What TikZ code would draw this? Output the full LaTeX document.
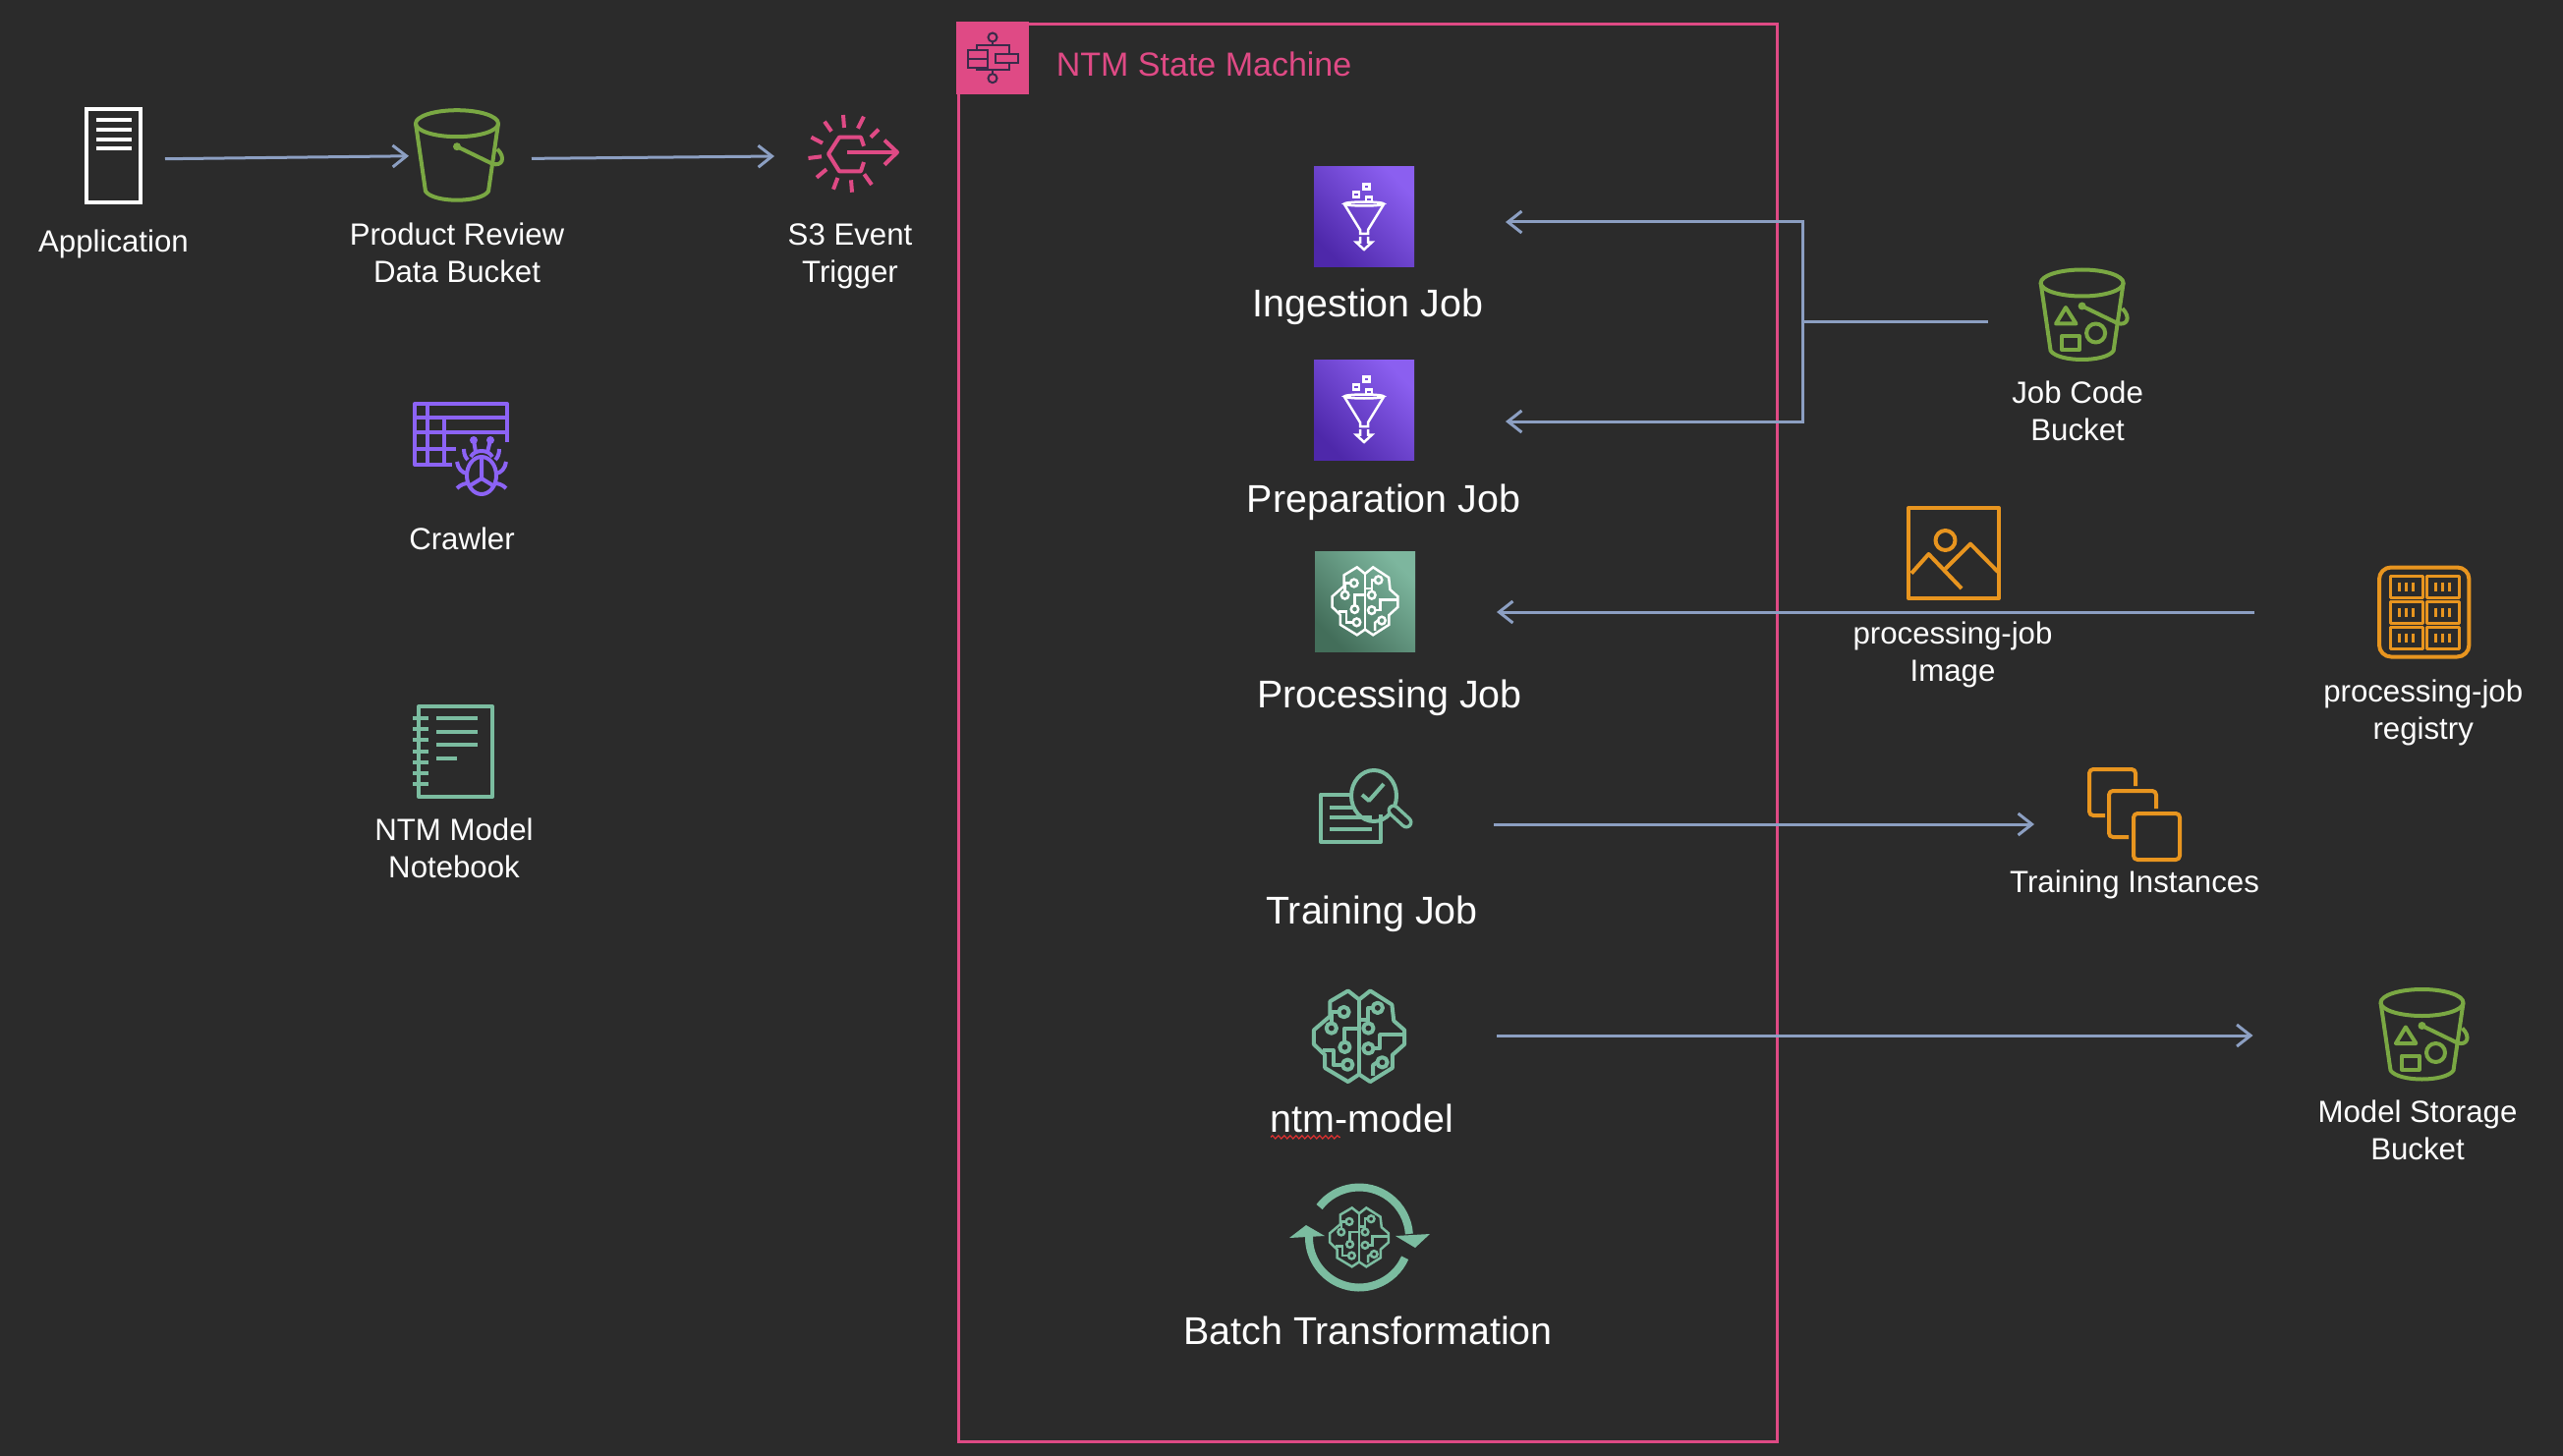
\documentclass[tikz,border=0pt]{standalone}
\usepackage{fontspec}
\setmainfont{Liberation Sans}
\usepackage{xcolor}
\usetikzlibrary{arrows.meta,positioning,decorations.pathmorphing}
\definecolor{pagebg}{HTML}{2B2B2B}
\definecolor{flowblue}{HTML}{8C9FC2}
\definecolor{machinepink}{HTML}{DF4A85}
\definecolor{bucketgreen}{HTML}{7AA843}
\definecolor{crawlviolet}{HTML}{8C63F5}
\definecolor{notegreen}{HTML}{7BBCA0}
\definecolor{boxorange}{HTML}{E8951F}
\definecolor{glyphdark}{HTML}{3A2B4A}
\definecolor{squigglered}{HTML}{E03030}
\definecolor{violethigh}{HTML}{8B5FF0}
\definecolor{violetlow}{HTML}{4E28AA}
\definecolor{sagehigh}{HTML}{7DB69E}
\definecolor{sagelow}{HTML}{436E5A}
\tikzset{
  iconspot/.style 2 args={
    minimum width=#1, minimum height=#2, inner sep=0pt, outer sep=0pt
  },
  iconlabel/.style={
    font=\fontsize{15.6pt}{19pt}\selectfont, text=white, align=center,
    inner sep=0pt, outer sep=0pt
  },
  joblabel/.style={
    font=\fontsize{19.7pt}{24pt}\selectfont, text=white, align=center,
    inner sep=0pt, outer sep=0pt
  },
  flowline/.style={line width=1.5pt, color=flowblue},
  flowarrow/.style={
    -{Straight Barb[length=7pt,width=11pt]}, line width=1.5pt, color=flowblue
  },
  iconline/.style={line width=2pt, line join=round},
  machinebox/.style={
    rectangle, draw=machinepink, line width=1.5pt,
    minimum width=416.5pt, minimum height=721.75pt, inner sep=0pt
  },
  machinetile/.style={
    rectangle, fill=machinepink, minimum width=37pt, minimum height=37pt,
    inner sep=0pt, outer sep=0pt
  },
  jobtile/.style 2 args={
    rectangle, top color=#1, bottom color=#2, shading angle=-45,
    minimum width=51pt, minimum height=51pt, inner sep=0pt, outer sep=0pt
  },
  % glyphs, drawn around the centre of their node
  serverglyph/.pic={
    \draw[line width=2pt] (-27.5,-47.5) rectangle (27.5,47.5);
    \foreach \y in {-37,-27,-17,-8}
      \draw[line width=2pt] (-18,\y) -- (18,\y);
  },
  bucketglyph/.pic={
    \draw (0,-33) ellipse[x radius=42,y radius=13.5];
    \draw (-42,-33) -- (-32,36) .. controls (-24,48) and (24,48) .. (32,36) -- (42,-33);
    \fill (0,-9.5) circle[radius=4];
    \draw (0,-9.5) -- (36,8) .. controls (46,11) and (50,2) .. (41,-7);
  },
  shapebucketglyph/.pic={
    \pic {bucketglyph};
    \draw (-16.6,-8) -- (-26.6,8.5) -- (-6.1,8.5) -- cycle;
    \draw (-20.6,21) rectangle (-2.6,35);
    \draw (14,18) circle[radius=9.5];
  },
  triggerglyph/.pic={
    \foreach \xa/\ya/\xb/\yb in {-10/-41.7/-9/-28.7, 11/-40/5/-28, 26/-27/18/-19,
        -29/-35/-22/-25, -42.5/-19/-31/-13, -45.5/2.3/-32/.6, -37/22/-27/13.6,
        -20/34/-15.6/22.3, -1/37/-2/24.6, 19/29.3/11.4/18.6}
      \draw (\xa,\ya) -- (\xb,\yb);
    \draw (11,-10) -- (8,-19) -- (-14,-19) -- (-25,-2) -- (-14,15.6) -- (8,15.6) -- (11,6.3);
    \draw[line width=2pt] (-6,-3.7) -- (45,-3.7);
    \draw[line width=2pt] (32,-16) -- (45,-3.7) -- (32,9);
  },
  crawlerglyph/.pic={
    % table
    \draw (47,-7) -- (47,-46) -- (-47,-46) -- (-47,16) -- (-9,16);
    \draw (-47,-32) -- (47,-32);
    \draw (-47,-17) -- (47,-17);
    \draw (-34,-46) -- (-34,16);
    \draw (-17,-32) -- (-17,16);
    \draw (-47,0) -- (-5,0);
    % bug
    \draw (21,27) ellipse[x radius=15,y radius=19];
    \draw (21,8) -- (21,30) -- (8,38);
    \draw (21,30) -- (34,38);
    \fill (13,-9) circle[radius=4];
    \fill (30,-9) circle[radius=4];
    \draw (13,-9) -- (15,3);
    \draw (30,-9) -- (27,3);
    \draw (10,8) .. controls (14,0) and (28,0) .. (32,8);
    \draw (3,0) .. controls (3,6) and (5,9) .. (7,11);
    \draw (39,0) .. controls (39,6) and (37,9) .. (35,11);
    \draw (-4,13) .. controls (-3,20) and (1,24) .. (6,25);
    \draw (46,13) .. controls (45,20) and (41,24) .. (36,25);
    \draw (-4,40) .. controls (0,36) and (4,35) .. (8,35);
    \draw (46,40) .. controls (42,36) and (38,35) .. (34,35);
  },
  notebookglyph/.pic={
    \draw (-35,-46) rectangle (40,46);
    \foreach \r in {0,...,6}
      \draw (-41,{-34+\r*11.17}) -- (-25,{-34+\r*11.17});
    \foreach \y in {-34,-20,-7}
      \draw (-17,\y) -- (25,\y);
    \draw (-17,7) -- (4,7);
  },
  stepglyph/.pic={
    \draw (0,-21) circle[radius=4.5];
    \draw (0,20.7) circle[radius=4.5];
    \draw (0,-16.5) -- (0,-13);
    \draw (0,12.4) -- (0,16.2);
    \draw (-16,-8) -- (-16,-13) -- (16.5,-13) -- (16.5,-3.7);
    \draw (-16,10) -- (-16,12.4) -- (16.5,12.4) -- (16.5,5.5);
    \draw (-25.3,-8) rectangle (-5,10);
    \draw (-25.3,1) -- (-5,1);
    \draw (3.4,-3.7) rectangle (26.4,5.5);
  },
  funnelglyph/.pic={
    \foreach \x/\y in {2.5/-31,-8/-23,5/-18}
      \draw (\x-3,\y-2.5) rectangle (\x+3,\y+2.5);
    \draw (0,-13.5) ellipse[x radius=20,y radius=2];
    \draw (-20,-13) -- (-4,13) -- (-4,17) -- (4,17) -- (4,13) -- (20,-13);
    \draw (-4,20) -- (-4,25.6) -- (-8,25.6) -- (0,33) -- (8,25.6) -- (4,25.6) -- (4,20);
  },
  % brain, in a unit box: the picture sets x and y
  brainglyph/.pic={
    \draw (0,-.8) -- (-.24,-.99) -- (-.63,-.76) -- (-.63,-.44) -- (-.98,-.14)
      -- (-.98,.17) -- (-.74,.4) -- (-.74,.68) -- (-.24,.98) -- (0,.82)
      -- (.24,.98) -- (.72,.68) -- (.72,.4) -- (.98,.17) -- (.98,-.14)
      -- (.75,-.34) -- (.71,-.69) -- (.24,-.99) -- cycle;
    \draw (0,-.8) -- (0,.82);
    \foreach \x/\y in {-.33/-.53,-.6/-.18,-.31/.23,-.25/.61,.4/-.62,.2/-.18,.2/.26,.5/.56}
      \draw (\x,\y) circle[radius=.11];
    \draw (-.44,-.53) -- (-.6,-.53) -- (-.6,-.29);
    \draw (-.31,.12) -- (-.31,-.18) -- (0,-.18);
    \draw (-.36,.61) -- (-.56,.61) -- (-.56,.3) -- (-.78,.3);
    \draw (.29,-.62) -- (.2,-.62) -- (.2,-.37) -- (0,-.37);
    \draw (.2,-.29) -- (.2,-.37);
    \draw (.31,.26) -- (.45,.26) -- (.45,-.04) -- (.98,-.04);
    \draw (.39,.56) -- (.3,.62) -- (.3,.85);
  },
  trainglyph/.pic={
    \draw (-13,-11.5) -- (-45,-11.5) -- (-45,37) -- (16,37) -- (16,9);
    \draw (-36,2) -- (-13,2);
    \draw (-36,12) -- (7,12);
    \draw (-36,24) -- (7,24);
    \draw (9,-10) ellipse[x radius=23,y radius=26];
    \draw (-3,-11) -- (4,-5) -- (19,-22);
    \draw[line width=6.5pt, line cap=round] (29,5) -- (42,17);
    \draw[line width=3pt, line cap=round, pagebg] (29,5) -- (42,17);
  },
  batchglyph/.pic={
    \draw[line width=4pt] (-142.5:51) arc[start angle=-142.5,end angle=-4,radius=51];
    \draw[line width=4pt] (24:51) arc[start angle=24,end angle=184,radius=51];
    \fill (37,-1.5) -- (72,-3.5) -- (57,10.5) -- cycle;
    \fill (-71,.5) -- (-35,-1.5) -- (-54,-12.5) -- cycle;
    \pic[x=15.2pt,y=-15.2pt,line width=1.25pt] {brainglyph};
  },
  imageglyph/.pic={
    \draw (-46,-46) rectangle (46,46);
    \draw (-8.5,-13) circle[radius=10];
    \draw (-43,20.6) -- (-25.5,1) -- (8,36);
    \draw (-8.5,16) -- (17,-9.4) -- (45,19);
  },
  registryglyph/.pic={
    \draw[rounded corners=6pt] (-45.7,-45.5) rectangle (45.7,45.5);
    \foreach \cx in {-18.2,18.8}
      \foreach \cy in {-26,0,26} {
        \draw[line width=1.5pt] (\cx-16.5,\cy-11) rectangle (\cx+16.5,\cy+11);
        \foreach \bx in {-7,0,7}
          \draw[line width=1.5pt] ({\cx+\bx},\cy-4.5) -- ({\cx+\bx},\cy+4.5);
      }
  },
  instancesglyph/.pic={
    \draw[rounded corners=2pt] (-1,-1) rectangle (46,46);
    \draw[rounded corners=2pt] (22,-6) -- (22,-24) -- (-26,-24) -- (-26,23) -- (-6,23);
    \draw[rounded corners=2pt] (1,-29) -- (1,-46) -- (-46,-46) -- (-46,1) -- (-30,1);
  },
}

\begin{document}
\begin{tikzpicture}[x=0.5pt,y=-0.5pt]
  \fill[pagebg] (0,0) rectangle (2608,1482);

  % Left column
  \node[iconspot={28.5pt}{49pt}] (appserver) at (115.5,159) {};
  \pic[color=white] at (appserver) {serverglyph};
  \node[iconlabel, below=12.75pt of appserver] (applabel) {Application};

  \node[iconspot={42pt}{46pt}] (reviewbucket) at (465,158.7) {};
  \pic[iconline, color=bucketgreen] at (reviewbucket) {bucketglyph};
  \node[iconlabel, below=11pt of reviewbucket] (reviewlabel) {Product Review\\Data Bucket};

  \node[iconspot={46pt}{40pt}] (eventtrigger) at (868,158.7) {};
  \pic[iconline, color=machinepink] at (eventtrigger) {triggerglyph};
  \node[iconlabel, below=14.75pt of eventtrigger, xshift=-1.5pt] (triggerlabel) {S3 Event\\Trigger};

  \node[iconspot={47pt}{46pt}] (crawler) at (469,457) {};
  \pic[iconline, color=crawlviolet] at (crawler) {crawlerglyph};
  \node[iconlabel, below=17pt of crawler, xshift=.5pt] (crawlerlabel) {Crawler};

  \node[iconspot={41pt}{46pt}] (notebook) at (461,765) {};
  \pic[iconline, color=notegreen] at (notebook) {notebookglyph};
  \node[iconlabel, below=11pt of notebook, xshift=.5pt] (notebooklabel) {NTM Model\\Notebook};

  % State machine
  \node[machinebox] (machine) at (1391.5,746) {};
  \node[machinetile] (machinecorner) at (1010,59) {};
  \pic[line width=1pt, color=glyphdark] at (machinecorner) {stepglyph};
  \node[right=13.75pt of machinecorner, yshift=-3.25pt, font=\fontsize{17pt}{20pt}\selectfont,
    text=machinepink, inner sep=0pt] (machinelabel) {NTM State Machine};

  \node[jobtile={violethigh}{violetlow}] (ingestjob) at (1388,221) {};
  \pic[line width=1.25pt, color=white] at (ingestjob) {funnelglyph};
  \node[joblabel, below=10.75pt of ingestjob, xshift=2pt] (ingestlabel) {Ingestion Job};

  \node[jobtile={violethigh}{violetlow}] (prepjob) at (1388,417) {};
  \pic[line width=1.25pt, color=white] at (prepjob) {funnelglyph};
  \node[joblabel, below=12.25pt of prepjob, xshift=10pt] (preplabel) {Preparation Job};

  \node[jobtile={sagehigh}{sagelow}] (procjob) at (1389,612) {};
  \pic[x=17pt, y=-17.5pt, line width=1.25pt, color=white] at (procjob) {brainglyph};
  \node[joblabel, below=14.5pt of procjob, xshift=12.5pt] (proclabel) {Processing Job};

  \node[iconspot={46pt}{37.5pt}] (trainjob) at (1389,820) {};
  \pic[iconline, color=notegreen] at (trainjob) {trainglyph};
  \node[joblabel, below=27pt of trainjob, xshift=3.5pt] (trainlabel) {Training Job};

  \node[iconspot={47pt}{47pt}] (ntmmodel) at (1383,1055) {};
  \pic[x=23.5pt, y=-23.5pt, iconline, color=notegreen] at (ntmmodel) {brainglyph};
  \node[joblabel, below=10.75pt of ntmmodel, xshift=1.5pt] (ntmlabel) {ntm-model};
  \draw[squigglered, line width=.6pt, decorate,
    decoration={snake, amplitude=.8pt, segment length=3pt}]
    ([yshift=-2.5pt]ntmlabel.south west) -- ++(71,0);

  \node[iconspot={55pt}{55pt}] (batchjob) at (1383,1259.5) {};
  \pic[color=notegreen] at (batchjob) {batchglyph};
  \node[joblabel, below=12.75pt of batchjob, xshift=4.5pt] (batchlabel) {Batch Transformation};

  % Right column
  \node[iconspot={42pt}{46pt}] (jobcode) at (2118.6,321) {};
  \pic[iconline, color=bucketgreen] at (jobcode) {shapebucketglyph};
  \node[iconlabel, below=10.25pt of jobcode, xshift=-2.25pt] (jobcodelabel) {Job Code\\Bucket};

  \node[iconspot={46pt}{46pt}] (procimage) at (1988,563) {};
  \pic[iconline, color=boxorange] at (procimage) {imageglyph};
  \node[iconlabel, below=12pt of procimage, xshift=-.5pt] (imagelabel) {processing-job\\Image};

  \node[iconspot={45.7pt}{45.5pt}] (procregistry) at (2466.7,623) {};
  \pic[iconline, color=boxorange] at (procregistry) {registryglyph};
  \node[iconlabel, below=11.5pt of procregistry, xshift=-.5pt] (registrylabel) {processing-job\\registry};

  \node[iconspot={46pt}{46pt}] (instances) at (2172,829) {};
  \pic[iconline, color=boxorange] at (instances) {instancesglyph};
  \node[iconlabel, below=5.25pt of instances] (instanceslabel) {Training Instances};

  \node[iconspot={42pt}{46pt}] (modelbucket) at (2464.5,1053.5) {};
  \pic[iconline, color=bucketgreen] at (modelbucket) {shapebucketglyph};
  \node[iconlabel, below=10.25pt of modelbucket, xshift=-2.25pt] (modellabel) {Model Storage\\Bucket};

  % Connectors
  \draw[flowarrow, shorten <=12pt, shorten >=3.5pt] ([yshift=-1.5pt]appserver.east) -- (reviewbucket.west);
  \draw[flowarrow, shorten <=17pt, shorten >=17pt] ([yshift=-1.5pt]reviewbucket.east) -- (eventtrigger.west);

  \coordinate (jobjoin) at (1834,327.5);
  \draw[flowline, shorten <=27pt] ([yshift=-3.25pt]jobcode.west) -- (jobjoin);
  \draw[flowarrow, shorten >=46.5pt] (jobjoin) |- ([yshift=-2.5pt]ingestjob.east);
  \draw[flowarrow, shorten >=46.5pt] (jobjoin) |- ([yshift=-6pt]prepjob.east);

  \draw[flowarrow, shorten <=63.5pt, shorten >=41.5pt] (procregistry.west) -- ([yshift=-5.5pt]procjob.east);
  \draw[flowarrow, shorten <=42.5pt, shorten >=28pt] ([yshift=-9.5pt]trainjob.east) -- ([yshift=-5pt]instances.west);
  \draw[flowarrow, shorten <=46.5pt, shorten >=65pt] ([yshift=.5pt]ntmmodel.east) -- ([yshift=-.25pt]modelbucket.west);
\end{tikzpicture}
\end{document}
